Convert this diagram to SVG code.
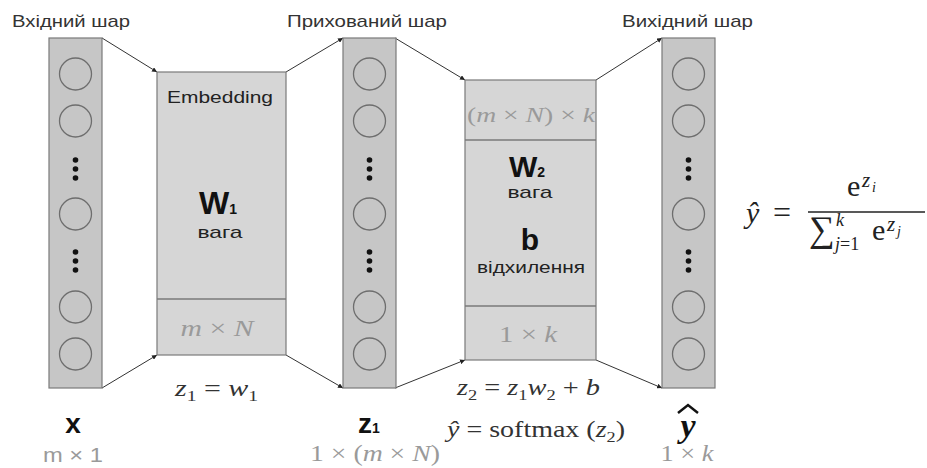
<svg xmlns="http://www.w3.org/2000/svg" width="927" height="468" viewBox="0 0 927 468">
<defs>
<marker id="ah" viewBox="0 0 10 10" refX="10" refY="5" markerWidth="5" markerHeight="5" orient="auto" markerUnits="userSpaceOnUse">
<path d="M0,0 L10,5 L0,10 z" fill="#222"/>
</marker>
<g id="nodecol">
<rect x="0" y="0" width="53" height="350" fill="#c6c6c6" stroke="#7a7a7a" stroke-width="1.2"/>
<g fill="none" stroke="#6e6e6e" stroke-width="1.3">
<circle cx="26.5" cy="36" r="16"/>
<circle cx="26.5" cy="83" r="16"/>
<circle cx="26.5" cy="176" r="16"/>
<circle cx="26.5" cy="269" r="16"/>
<circle cx="26.5" cy="316" r="16"/>
</g>
<g fill="#111">
<circle cx="26.5" cy="122" r="2.8"/><circle cx="26.5" cy="131" r="2.8"/><circle cx="26.5" cy="140" r="2.8"/>
<circle cx="26.5" cy="214" r="2.8"/><circle cx="26.5" cy="223" r="2.8"/><circle cx="26.5" cy="232" r="2.8"/>
</g>
</g>
</defs>
<style>
.lbl{font-family:"Liberation Sans",Arial,sans-serif;font-size:17px;fill:#333}
.sm{font-family:"Liberation Sans",Arial,sans-serif;font-size:17px;fill:#222;text-anchor:middle}
.big{font-family:"Liberation Sans",Arial,sans-serif;font-weight:bold;fill:#111;text-anchor:middle}
.math{font-family:"Liberation Serif","Times New Roman",serif;fill:#333}
.gmath{font-family:"Liberation Serif","Times New Roman",serif;fill:#9a9a9a;text-anchor:middle}
.fm{font-family:"Liberation Serif","Times New Roman",serif;fill:#222}
.it{font-style:italic}
.conn{stroke:#333;stroke-width:1;fill:none;marker-end:url(#ah)}
.box{fill:#d6d6d6;stroke:#7a7a7a;stroke-width:1.2}
</style>

<g id="connectors">
<line class="conn" x1="102" y1="38" x2="157" y2="72"/>
<line class="conn" x1="102" y1="388" x2="157" y2="355"/>
<line class="conn" x1="286" y1="72" x2="343" y2="38"/>
<line class="conn" x1="286" y1="355" x2="343" y2="388"/>
<line class="conn" x1="395" y1="38" x2="465" y2="80"/>
<line class="conn" x1="395" y1="388" x2="465" y2="360"/>
<line class="conn" x1="596" y1="80" x2="662" y2="38"/>
<line class="conn" x1="596" y1="360" x2="662" y2="388"/>
</g>

<g id="input-layer">
<text class="lbl" x="12" y="27" textLength="118" lengthAdjust="spacingAndGlyphs">Вхідний шар</text>
<use href="#nodecol" x="49" y="38"/>
<text class="big" x="73" y="433" font-size="28">x</text>
<text x="73" y="462" font-family="Liberation Sans,Arial,sans-serif" font-size="21" fill="#9a9a9a" text-anchor="middle" textLength="60" lengthAdjust="spacingAndGlyphs">m × 1</text>
</g>

<g id="embedding">
<rect class="box" x="157" y="72" width="129" height="283"/>
<line x1="157" y1="299" x2="286" y2="299" stroke="#7a7a7a" stroke-width="1.5"/>
<text class="sm" x="220" y="103" fill="#333" textLength="106" lengthAdjust="spacingAndGlyphs">Embedding</text>
<text class="big" x="218" y="214" font-size="32">W<tspan font-size="14">1</tspan></text>
<text class="sm" x="220" y="238" textLength="45" lengthAdjust="spacingAndGlyphs">вага</text>
<text class="gmath" x="217" y="336" font-size="23" textLength="73" lengthAdjust="spacingAndGlyphs"><tspan class="it">m</tspan> × <tspan class="it">N</tspan></text>
</g>

<g id="hidden-layer">
<text class="lbl" x="287" y="27" textLength="160" lengthAdjust="spacingAndGlyphs">Прихований шар</text>
<use href="#nodecol" x="343" y="38"/>
<text class="big" x="369" y="433" font-size="28">z<tspan font-size="14">1</tspan></text>
<text class="gmath" x="375" y="461" font-size="24" textLength="130" lengthAdjust="spacingAndGlyphs">1 × (<tspan class="it">m</tspan> × <tspan class="it">N</tspan>)</text>
</g>

<g id="softmax-layer">
<rect class="box" x="465" y="80" width="131" height="280"/>
<line x1="465" y1="140" x2="596" y2="140" stroke="#7a7a7a" stroke-width="1.5"/>
<line x1="465" y1="306" x2="596" y2="306" stroke="#7a7a7a" stroke-width="1.5"/>
<text class="gmath" x="531" y="122" font-size="22" textLength="128" lengthAdjust="spacingAndGlyphs">(<tspan class="it">m</tspan> × <tspan class="it">N</tspan>) × <tspan class="it">k</tspan></text>
<text class="big" x="527" y="177" font-size="30">W<tspan font-size="14">2</tspan></text>
<text class="sm" x="530" y="198" textLength="45" lengthAdjust="spacingAndGlyphs">вага</text>
<text class="big" x="530" y="250" font-size="30">b</text>
<text class="sm" x="531" y="273" textLength="108" lengthAdjust="spacingAndGlyphs">відхилення</text>
<text class="gmath" x="528" y="342" font-size="23" textLength="58" lengthAdjust="spacingAndGlyphs">1 × <tspan class="it">k</tspan></text>
</g>

<g id="output-layer">
<text class="lbl" x="622" y="27" textLength="131" lengthAdjust="spacingAndGlyphs">Вихідний шар</text>
<use href="#nodecol" x="662" y="38"/>
<text x="688" y="437" font-family="Liberation Serif,Times New Roman,serif" font-style="italic" font-weight="bold" font-size="34" fill="#111" text-anchor="middle">y</text>
<path d="M678,413 L688,405 L698,413" fill="none" stroke="#111" stroke-width="2.5"/>
<text class="gmath" x="687" y="461" font-size="23" textLength="53" lengthAdjust="spacingAndGlyphs">1 × <tspan class="it">k</tspan></text>
</g>

<g id="equations">
<text class="math" x="175" y="396" font-size="23" textLength="83" lengthAdjust="spacingAndGlyphs"><tspan class="it">z</tspan><tspan font-size="15" dy="5">1</tspan><tspan dy="-5"> = </tspan><tspan class="it">w</tspan><tspan font-size="15" dy="5">1</tspan></text>
<text class="math" x="457" y="395" font-size="23" textLength="143" lengthAdjust="spacingAndGlyphs"><tspan class="it">z</tspan><tspan font-size="15" dy="5">2</tspan><tspan dy="-5"> = </tspan><tspan class="it">z</tspan><tspan font-size="15" dy="5">1</tspan><tspan class="it" dy="-5">w</tspan><tspan font-size="15" dy="5">2</tspan><tspan dy="-5"> + </tspan><tspan class="it">b</tspan></text>
<text class="math" x="447" y="437" font-size="23" textLength="178" lengthAdjust="spacingAndGlyphs"><tspan class="it">ŷ</tspan> = softmax (<tspan class="it">z</tspan><tspan font-size="15" dy="5">2</tspan><tspan dy="-5">)</tspan></text>
</g>

<g id="softmax-formula">
<text class="fm it" x="746" y="223" font-size="30">ŷ</text>
<text class="fm" x="773" y="223" font-size="32">=</text>
<line x1="808" y1="212" x2="925" y2="212" stroke="#222" stroke-width="1.5"/>
<text class="fm" x="847" y="196" font-size="30">e</text>
<text class="fm it" x="862" y="187" font-size="21">z</text>
<text class="fm it" x="872" y="192" font-size="14">i</text>
<text class="fm" x="809" y="241" font-size="36">∑</text>
<text class="fm it" x="836" y="226" font-size="18">k</text>
<text class="fm" x="835" y="250" font-size="18"><tspan class="it">j</tspan>=1</text>
<text class="fm" x="872" y="240" font-size="30">e</text>
<text class="fm it" x="887" y="231" font-size="21">z</text>
<text class="fm it" x="897" y="236" font-size="14">j</text>
</g>
</svg>
